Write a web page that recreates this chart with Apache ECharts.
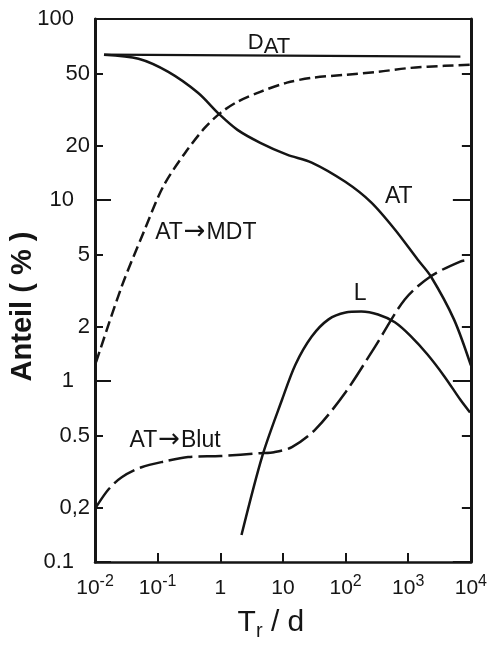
<!DOCTYPE html>
<html>
<head>
<meta charset="utf-8">
<script src="https://cdn.jsdelivr.net/npm/echarts@6/dist/echarts.min.js"></script>
<style>
  html, body { margin: 0; padding: 0; background: #fff; }
  #chart { width: 490px; height: 646px; }
</style>
</head>
<body>
<div id="chart"></div>
<script>
// Retention time T_r (days) and share of activity (%) for each pathway.
const tDAT = [0.014, 6800];
const shareDAT = [63.5, 62];

const tAT = [0.0139, 0.0495, 0.148, 0.44, 0.98, 1.88, 4.35, 11.6, 28.8, 99, 256, 612, 1413, 2291, 5370, 10000];
const shareAT = [63.5, 60.3, 51, 39.1, 29.6, 24.4, 20.7, 17.8, 16.1, 12.6, 9.7, 6.87, 4.69, 3.79, 2.19, 1.22];

const tMDT = [0.0104, 0.0267, 0.0595, 0.123, 0.274, 0.568, 1.01, 1.88, 4.35, 11.6, 28.8, 100, 330, 1096, 3776, 9700];
const shareMDT = [1.27, 3.33, 6.61, 11.9, 18.2, 25.1, 30.3, 34.9, 39.6, 44.5, 47.3, 49.2, 51.1, 53.7, 55.1, 55.8];

const tBlut = [0.0104, 0.0166, 0.0267, 0.0553, 0.132, 0.306, 1.01, 4.35, 7.2, 13.9, 33.3, 100, 296, 881, 2265, 6760, 9700];
const shareBlut = [0.201, 0.253, 0.294, 0.334, 0.36, 0.38, 0.385, 0.399, 0.404, 0.431, 0.542, 0.867, 1.55, 2.82, 3.78, 4.57, 4.69];

const tL = [2.18, 4.68, 9.7, 15.8, 28.8, 53.5, 100, 178, 330, 612, 1096, 2032, 3776, 6760, 9700];
const shareL = [0.141, 0.385, 0.79, 1.23, 1.76, 2.19, 2.39, 2.42, 2.33, 2.11, 1.77, 1.40, 1.06, 0.79, 0.67];

// Axis ticks
const xTickExponents = [-2, -1, 0, 1, 2, 3, 4];
const xTickLabels = ['{b|10}{s|-2}', '{b|10}{s|-1}', '{b|1}', '{b|10}', '{b|10}{s|2}', '{b|10}{s|3}', '{b|10}{s|4}'];
const yDecadeValues = [0.1, 1, 10, 100];
const yDecadeLabels = ['0.1', '1', '10', '100'];
const yMinorValues = [0.2, 0.5, 2, 5, 20, 50];
const yMinorLabels = ['0,2', '0.5', '2', '5', '20', '50'];

const lg = Math.log10;
const toPairs = (xs, ys) => xs.map((x, i) => [lg(x), lg(ys[i])]);
const pickLabel = (vals, labels) => v => {
  let best = 0;
  vals.forEach((t, i) => { if (Math.abs(lg(t) - v) < Math.abs(lg(vals[best]) - v)) best = i; });
  return labels[best];
};

const FONT = '"Liberation Sans", Arial, sans-serif';
const ARROW_FONT = '"DejaVu Sans", sans-serif';
const INK = '#151515';

const axisBase = {
  type: 'value',
  splitLine: { show: false },
  axisLine: { onZero: false, lineStyle: { color: INK, width: 3 } }
};

const noteRich = {
  a: { fontSize: 26, fontFamily: ARROW_FONT, color: INK, padding: [0, 1, 0, 1] },
  d: { fontSize: 22, lineHeight: 22, verticalAlign: 'top', fontFamily: FONT, color: INK },
  s: { fontSize: 22, lineHeight: 22, padding: [8, 0, 0, 0], fontFamily: FONT, color: INK }
};

function note(text, x, y) {
  return {
    coord: [lg(x), lg(y)],
    symbol: 'circle',
    symbolSize: 0,
    label: {
      show: true, position: 'inside', formatter: text,
      color: INK, fontFamily: FONT, fontSize: 23, rich: noteRich
    }
  };
}
const markOf = items => ({ silent: true, animation: false, data: items });

const lineSeries = (name, data, dash, width, marks) => ({
  name, type: 'line', data,
  xAxisIndex: 0, yAxisIndex: 0,
  showSymbol: false, symbol: 'none', smooth: 0.3,
  lineStyle: { color: INK, width: width, type: dash },
  markPoint: marks ? markOf(marks) : undefined,
  animation: false
});

const chart = echarts.init(document.getElementById('chart'), null, { renderer: 'canvas' });

chart.setOption({
  backgroundColor: '#fff',
  animation: false,
  grid: { left: 94, right: 16, top: 19, bottom: 83 },
  xAxis: [
    Object.assign({}, axisBase, {
      position: 'bottom', min: -2, max: 4, interval: 1,
      axisLine: { onZero: false, lineStyle: { color: INK, width: 2.5 } },
      axisTick: { inside: true, length: 9, lineStyle: { color: INK, width: 2 } },
      axisLabel: {
        margin: 12, color: INK, fontFamily: FONT,
        formatter: v => xTickLabels[xTickExponents.indexOf(Math.round(v))],
        rich: {
          b: { fontSize: 21, lineHeight: 21, padding: [8, 0, 0, 0], fontFamily: FONT, color: INK },
          s: { fontSize: 16, lineHeight: 16, verticalAlign: 'top', fontFamily: FONT, color: INK }
        }
      },
      name: '{t|T}{r|r}{t| / d}',
      nameLocation: 'middle', nameGap: 46,
      nameTextStyle: {
        padding: [0, 24, 0, 0],
        rich: {
          t: { fontSize: 30, lineHeight: 30, verticalAlign: 'top', fontFamily: FONT, color: INK },
          r: { fontSize: 20, lineHeight: 20, padding: [16, 0, 0, 0], fontFamily: FONT, color: INK }
        }
      }
    }),
    Object.assign({}, axisBase, {
      position: 'top', min: -2, max: 4, interval: 1,
      axisLine: { onZero: false, lineStyle: { color: INK, width: 2 } },
      axisTick: { show: false }, axisLabel: { show: false }
    })
  ],
  yAxis: [
    Object.assign({}, axisBase, {
      position: 'left', min: -1, max: 2,
      axisTick: { inside: true, length: 8, lineStyle: { color: INK, width: 2 }, customValues: yMinorValues.map(lg) },
      axisLabel: {
        margin: 5, color: INK, fontFamily: FONT, fontSize: 22,
        customValues: yMinorValues.map(lg),
        formatter: pickLabel(yMinorValues, yMinorLabels)
      },
      name: 'Anteil ( % )',
      nameLocation: 'middle', nameGap: 58, nameRotate: 90,
      nameTextStyle: { fontFamily: FONT, fontSize: 29, fontWeight: 'bold', color: INK, padding: [0, 32, 0, 0] }
    }),
    Object.assign({}, axisBase, {
      position: 'left', min: -1, max: 2,
      axisLine: { show: false, onZero: false },
      axisTick: { inside: true, length: 16, lineStyle: { color: INK, width: 2 }, customValues: yDecadeValues.map(lg) },
      axisLabel: {
        margin: 21, color: INK, fontFamily: FONT, fontSize: 22,
        customValues: yDecadeValues.map(lg),
        formatter: pickLabel(yDecadeValues, yDecadeLabels)
      }
    }),
    Object.assign({}, axisBase, {
      position: 'right', min: -1, max: 2,
      axisTick: { inside: true, length: 9, lineStyle: { color: INK, width: 2 }, customValues: yMinorValues.map(lg) },
      axisLabel: { show: false }
    }),
    Object.assign({}, axisBase, {
      position: 'right', min: -1, max: 2,
      axisLine: { show: false, onZero: false },
      axisTick: { inside: true, length: 18, lineStyle: { color: INK, width: 2 }, customValues: yDecadeValues.map(lg) },
      axisLabel: { show: false }
    })
  ],
  series: [
    lineSeries('D_AT', toPairs(tDAT, shareDAT), 'solid', 2.2, [note('{d|D}{s|AT}', 6.0, 73.8)]),
    lineSeries('AT', toPairs(tAT, shareAT), 'solid', 2.5, [note('AT', 708, 10.45)]),
    lineSeries('AT→MDT', toPairs(tMDT, shareMDT), [11, 5], 2.5, [note('AT{a|→}MDT', 0.587, 6.6)]),
    lineSeries('AT→Blut', toPairs(tBlut, shareBlut), [24, 6], 2.5, [note('AT{a|→}Blut', 0.19, 0.471)]),
    lineSeries('L', toPairs(tL, shareL), 'solid', 2.5, [note('L', 171, 3.05)])
  ]
});
</script>
</body>
</html>
